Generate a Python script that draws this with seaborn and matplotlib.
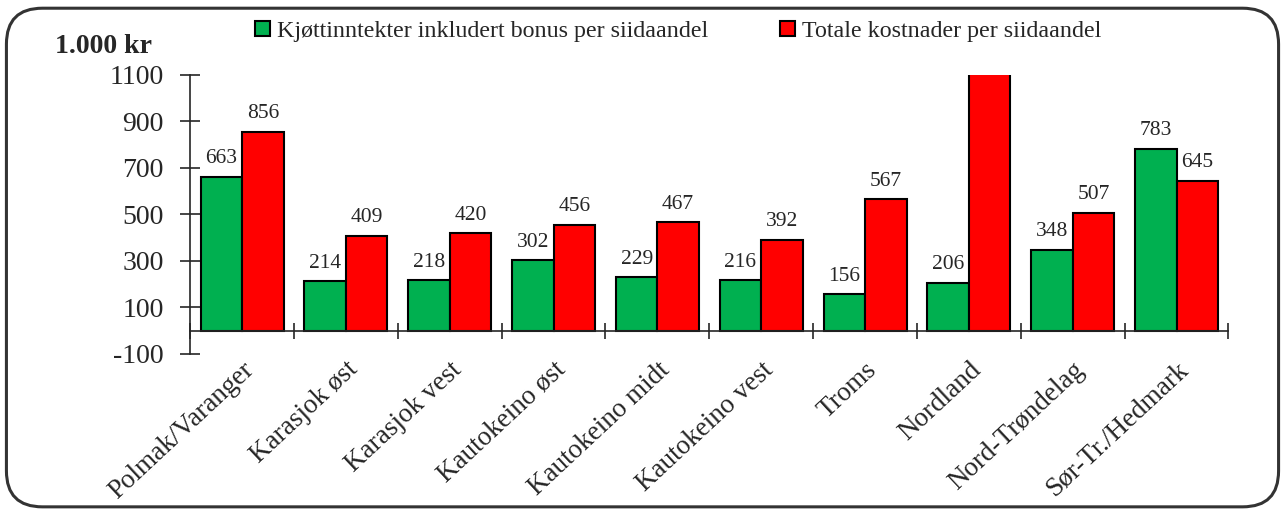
import matplotlib.pyplot as plt
import numpy as np
import pandas as pd
import seaborn as sns
from matplotlib.patches import FancyBboxPatch
from matplotlib.ticker import FixedLocator, FuncFormatter

# data
regions = ["Polmak/Varanger", "Karasjok øst", "Karasjok vest", "Kautokeino øst",
           "Kautokeino midt", "Kautokeino vest", "Troms", "Nordland",
           "Nord-Trøndelag", "Sør-Tr./Hedmark"]
income = [663, 214, 218, 302, 229, 216, 156, 206, 348, 783]
costs = [856, 409, 420, 456, 467, 392, 567, 1500, 507, 645]  # Nordland runs off the chart
series = ["Kjøttinntekter inkludert bonus per siidaandel", "Totale kostnader per siidaandel"]
y_ticks = [-100, 100, 300, 500, 700, 900, 1100]

df = pd.DataFrame({
    "region": regions * 2,
    "value": income + costs,
    "serie": [series[0]] * len(regions) + [series[1]] * len(regions),
})

sns.set_theme(style="ticks")
plt.rcParams["font.family"] = ["Liberation Serif", "DejaVu Serif"]

fig = plt.figure(figsize=(12.85, 5.13), dpi=100)
ax = fig.add_axes([0.148, 0.310, 0.808, 0.544])

sns.barplot(data=df, x="region", y="value", hue="serie", order=regions,
            hue_order=series, palette=["#00B050", "#FF0000"], width=0.8,
            edgecolor="black", linewidth=1.5, saturation=1, ax=ax)

ymin, ymax = y_ticks[0], y_ticks[-1]
ax.set_ylim(ymin, ymax)
ax.set_xlim(-0.5, len(regions) - 0.5)

for cont in ax.containers:
    labels = [f"{b.get_height():.0f}" if b.get_height() <= ymax else "" for b in cont]
    ax.bar_label(cont, labels=labels, padding=6, fontsize=15.5)

# axes styling
for s in ["top", "right"]:
    ax.spines[s].set_visible(False)
ax.spines["bottom"].set_position(("data", 0))
ax.spines["bottom"].set_linewidth(1.2)
ax.spines["left"].set_linewidth(1.2)

ax.yaxis.set_major_locator(FixedLocator(y_ticks))
ax.yaxis.set_major_formatter(FuncFormatter(lambda v, p: f"{v:.0f}"))
ax.tick_params(axis="y", direction="inout", length=14, width=1.2, labelsize=20, pad=12)

ax.set_xticks(np.arange(len(regions)))
ax.set_xticks(np.arange(len(regions) + 1) - 0.5, minor=True)
ax.set_xticklabels(regions, rotation=43, ha="right", rotation_mode="anchor", fontsize=19.5)
ax.tick_params(axis="x", which="major", length=0, pad=19)
ax.tick_params(axis="x", which="minor", direction="inout", length=12, width=1.2)

ax.set_xlabel("")
ax.set_ylabel("")

leg = ax.legend(loc="center", bbox_to_anchor=(0.47, 1.155), ncol=2, frameon=False,
                fontsize=17.3, handlelength=0.6, handleheight=0.6, handletextpad=0.3,
                columnspacing=3.0)

fig.text(0.043, 0.91, "1.000 kr", fontsize=20, fontweight="bold", va="center")

border = FancyBboxPatch((0.005, 0.012), 0.99, 0.972, boxstyle="round,pad=0,rounding_size=0.028",
                        transform=fig.transFigure, fill=False, edgecolor="#333333",
                        linewidth=2.2, mutation_aspect=2.5)
fig.patches.append(border)

fig.savefig("out.png", dpi=100)
